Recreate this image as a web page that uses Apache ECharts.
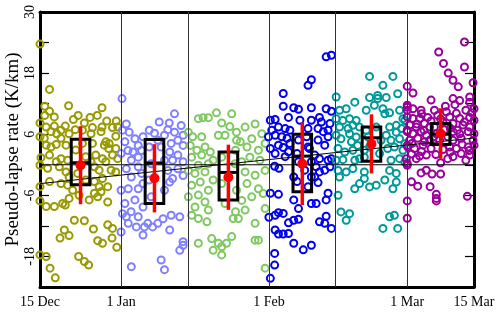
<!DOCTYPE html>
<html><head><meta charset="utf-8">
<script src="https://cdn.jsdelivr.net/npm/echarts@6/dist/echarts.min.js"></script>
<style>html,body{margin:0;padding:0;background:#fff}#c{width:500px;height:313px}</style>
</head><body><div id="c"></div>
<script>
// x = days since 15 Dec, y = pseudo-lapse rate (K/km)
const g1 = [[0,23.7],[2,14.8],[6,11.6],[1,11.5],[13,11.2],[2,10.5],[1,9.7],[3,9.4],[8,9.7],[12,9.7],[7,8.9],[10.5,9.3],[14,8.6],[16,8.6],
[0,8.2],[1.3,7.4],[3,7.6],[4.4,6.8],[5.3,7.6],[9.3,8.2],[11,7.3],[13,7.4],[15.2,7.3],[16.3,7.4],
[0,5.5],[0.9,5.2],[2.3,6.5],[3.5,6.1],[4.4,5.2],[6.1,6.1],[7.4,6.9],[8.9,6.8],[10.7,6.1],[12.8,6.5],[13.8,4.5],[14.5,4.2],[15.9,5.6],
[2.3,3.5],[1.3,3.85],[3.4,4.0],[5.45,3.85],[11,4.2],[13.5,3.85],[14.4,3.2],[15.9,3.2],
[0.2,1.4],[2,1.9],[3.4,0.6],[4.4,1.2],[5.8,0.9],[11.7,1.9],[13.1,1.2],[15.2,1.9],[16.3,1.2],
[0,-0.1],[1.6,-0.7],[4.05,-0.4],[5.45,-1.4],[11.4,-0.4],[12.4,-1.05],[14.9,-1.05],[15.9,-1.4],
[0,-4.3],[2,-3.3],[4.4,-3.7],[5.8,-4.0],[11.4,-3.3],[13.1,-2.7],[12.4,-4.3],
[6.85,-5.0],[8.2,-6.0],[11.4,-5.6],[12.8,-5.3],[14.2,-4.3],
[0,-7.1],[1.3,-8.2],[3,-8.2],[4.75,-7.6],[6.1,-6.6],[5.3,-7.9],[10.3,-6.9],[12.1,-6.3],[14.2,-7.3],
[7.2,-10.9],[9.3,-11.0],[14.2,-11.8],[15.2,-12.5],[11.2,-12.6],[5.1,-12.8],[6.1,-13.9],[4.2,-14.4],[12.1,-14.9],[13.1,-15.4],[15.1,-14.4],[16.1,-16.2],[0,-17.7],[1.3,-18.0],[8.1,-18.0],[9.3,-19.0],[10.2,-19.7],[2.1,-20.3],[3.2,-22.2],
[9.6,1.6],[10.7,0.6],[7.9,-1.7],[13.8,0.6],[9.6,-3],[7.5,2.9],[6.1,-2.4],[8.9,4.2]];
const g2 = [[17.2,13.0],[28.2,10.0],[25,8.4],[27.1,8.2],[18.1,8.0],[29.6,7.7],
[17.3,6.8],[18.7,6.4],[26.8,6.9],[28.2,6.4],[26.1,5.8],[24,6.2],[30,5.8],[21.6,5.5],
[17.8,4.5],[19.9,5.1],[28.9,4.8],[27.5,4.2],[20.6,3.8],[30,3.8],
[18.45,2.8],[19.5,2.5],[21.3,2.8],[17,2.2],[27.2,2.5],[28.9,1.9],[20.6,1.5],[27.8,0.9],[19.15,0.9],[30,0.6],
[18.1,-0.8],[20.6,-0.4],[26.8,-1.1],[28.9,-0.8],[21.3,-1.7],[30,-2.1],[19.15,-2.4],[27.8,-2.7],
[18.5,-4.7],[20.6,-4.7],[27.2,-3.4],[21.6,-3.7],[17,-5.0],
[17.8,-7.6],[19.9,-6.9],[21.6,-8.3],[19.1,-9.2],[18.1,-10.2],[17.3,-9.6],[20.6,-10.2],
[27.5,-9.9],[29.3,-10.2],[25.8,-10.6],[22.6,-11.5],[23.6,-12.2],[24.7,-11.5],[21.9,-12.2],[20.2,-12.2],[18.5,-11.5],
[17,-13.2],[21.6,-13.8],[27.2,-12.8],[30,-15.1],[29.3,-16.8],[30,-15.8],
[25.4,-18.7],[19.15,-20.0],[26.1,-20.6],
[22.9,3.5],[23.3,0.2],[26.1,0.9],[22.9,-3.0],[26.1,-5.0],[23.3,-6.3],[25.4,3.5],[24.7,4.8],[22.9,6.8]];
const g3 = [[33.2,9.05],[34.2,9.25],[35.3,9.25],[37,10.2],[40.2,10.0],[38.1,8.2],[39.8,7.5],[43,7.4],[45.1,8.0],
[31.1,6.4],[32,5.5],[33.9,5.5],[37.4,5.8],[38.8,5.8],[41.2,6.4],[42,4.5],[44.4,5.1],[46.5,6.1],[47.2,4.2],[45.8,2.85],[43.4,3.5],[41,2.85],
[31.5,3.8],[32.9,2.85],[34.6,3.5],[35.7,2.5],[33.9,1.9],[31.8,1.5],[36.3,0.9],[35.3,0.2],[33.2,-0.1],[31.1,-1.1],[32.5,-1.7],[34.6,-1.4],[36.3,-3.0],[33.6,-3.4],[31.8,-4.0],[35.3,-5.0],[31.1,-6.3],[33.2,-5.95],[34.6,-7.3],[32.5,-8.3],[31.8,-9.9],[33.2,-10.55],[35.3,-8.9],[35,-11.2],
[42.3,0.6],[44,1.5],[46.1,0.9],[43,-1.4],[45.1,-2.05],[47.2,-1.1],[43.4,-3.7],[45.8,-4.7],[44.4,-6.3],[46.8,-5.65],[42.3,-7],[43,-8.9],[41,-9.2],[41.6,-10.55],[45.1,-11.5],[47.2,-8.6],
[33.2,-15.4],[36,-14.5],[37.4,-15.4],[38.1,-16.1],[39.1,-15.4],[40.2,-14.1],[36.3,-16.8],[38.1,-17.7],[45.1,-14.8],[45.8,-14.8],[47.2,-20.3],
[38.1,1.5],[40.9,0.2],[38.1,-3.7],[41.2,-5.0],[38.8,-7.6],[40.5,-10.55],[41.2,4.8]];
const g4 = [[60,21.2],[61.1,21.5],[56.9,16.7],[56.2,15.6],[51,14.0],[51,11.5],[53.2,11.2],[54.2,10.9],[56.9,11.2],[60,11.0],[61.1,10.5],
[52.1,9.3],[48.3,8.75],[49.3,8.9],[54.5,8.75],[56.9,8.75],[58.6,9.3],[59,8.4],[60.8,8.1],
[50,7.4],[51.4,7.1],[48.6,6.8],[52.4,6.8],[56.2,7.1],[58.3,7.1],[59.4,6.5],[60.4,6.8],
[47.9,5.5],[49.3,5.8],[50.7,5.5],[51.8,5.2],[55.9,5.5],[58.3,4.85],[60.4,5.5],[59.7,3.85],
[48.3,3.2],[50,3.85],[51,3.4],[52.1,2.55],[51.4,1.6],[49.3,2.2],[52.4,4.2],[56.5,3.2],[57.6,1.9],[58.6,1.2],[60.4,0.9],[61.1,1.2],[56.9,0.6],
[49.2,-0.3],[50.1,-0.7],[53.2,-2.4],[57.9,-0.4],[58.6,-1.4],[59.7,-1.05],[60.8,-0.4],[57.6,-2.4],[58.3,-3.5],
[48.3,-5.6],[50,-5.8],[53.2,-6.9],[54.2,-8.6],[56.9,-7.6],[57.9,-7.6],[60,-6.9],[60.4,-5.6],
[48,-10.3],[49.3,-9.9],[50,-9.4],[51,-9.55],[53.2,-10.9],[54.2,-10.7],[52.1,-11.4],[58.6,-11.2],[60,-10.1],[59.7,-11.5],[61.1,-12.5],
[49.3,-12.8],[50,-13.6],[51,-13.6],[52.1,-13.5],[53.2,-15.4],[56.9,-15.8],[55.2,-16.7],
[49.2,-17.4],[49.2,-19.7],[48.3,-22.3],
[54.2,4.85],[56.2,3.5],[53.9,2.2],[55.5,-1.05],[53.9,-3.3],[56.2,-4.3],[54.2,0.6],[56.9,-2.4]];
const g5 = [[69.1,17.35],[74,17.35],[71.9,15.6],[75,13.95],[62.1,13.3],[66,12.3],[69.1,13.2],[70.8,13.6],[70.8,13.0],[72.6,13.2],
[62.8,10.7],[64.2,11.0],[70.1,11.7],[71.9,11.0],[68.4,10.7],[72.3,10.0],[73.3,10.2],[75.4,10.7],[76.1,9.05],
[62.1,9.05],[63.5,8.7],[64.9,9.05],[66.3,8.7],[65.6,7.75],[64.6,7.1],[62.8,7.4],[67,7.4],[73.3,7.4],[74.7,7.75],[75.8,7.1],[76.5,8.7],
[62.1,5.8],[63.1,5.1],[64.9,6.1],[66.3,5.45],[65.3,4.5],[72.6,5.8],[73.6,4.8],[75.4,5.1],[74.7,6.4],
[62.5,3.2],[63.9,2.5],[65.6,2.85],[66.6,3.8],[72.9,3.2],[74.3,3.5],[76.1,2.85],[76.5,4.15],
[62.1,0.9],[63.5,1.0],[66,0.9],[67,1.2],[68,1.5],[73.6,0.9],[75.4,1.2],[76.5,0.55],
[62.5,-1.1],[64.2,-1.4],[65.6,-0.75],[68,-1.4],[73.3,-1.1],[74.7,-1.7],
[62.8,-2.4],[68,-2.7],[67,-3.7],[66,-4.7],[69.1,-4.35],[70.5,-4.0],[72.3,-3.0],[74,-4.7],[74.7,-3.4],
[62.5,-6.0],[63.1,-9.25],[64.9,-9.6],[64.2,-10.9],[73.3,-10.2],[74.3,-9.9],[71.9,-12.5],[75,-12.5],
[68.4,6.8],[70.5,7.4],[69.1,3.5],[71.2,2.2],[68.8,5.45],[71.5,4.8],[68,2.85]];
const g6 = [[89,24.1],[83.6,22.15],[84.6,19.9],[89,19.2],[85.6,18.0],[86.6,16.6],[87.7,15.3],[90.8,16.1],[90.1,13.3],[86.6,13.0],[82,12.7],[90.1,12.3],[91,11.0],
[77,15.4],[78.2,14.1],[77,11.7],[77,10.7],[78.2,11.0],[79.9,10.7],[82.7,10.7],[85.2,10.4],[87.3,10.1],[89.3,10.7],
[77,9.4],[78.2,9.1],[79.6,9.1],[81.3,9.3],[83.4,9.7],[85.9,9.4],[88,9.1],[90.1,9.3],[91,8.75],
[77.5,7.8],[78.9,7.4],[80.6,8.1],[81.7,7.4],[86.6,8.1],[88.7,7.8],[90.1,7.4],
[77,6.5],[78.2,6.1],[79.9,6.5],[81,5.8],[86.6,6.5],[88,6.1],[89.8,6.5],[91,6.1],
[77.5,4.8],[79.2,5.2],[80.6,4.5],[81.7,4.8],[86.6,4.8],[88.3,5.2],[90.8,4.8],
[77.1,3.5],[78.5,3.2],[80.3,3.85],[82,3.2],[85.9,3.5],[87.3,3.2],[89.8,3.5],[91,3.85],
[77.9,2.1],[79.6,1.7],[81,1.9],[86.6,1.6],[88.3,2.2],[90.1,1.9],
[76.8,1.2],[78.9,1.2],[85.5,1.2],[89.3,0.9],
[77,-0.1],[84,0.4],
[79.9,-1.6],[81,-1.05],[82.2,-1.8],[84,-1.8],
[77.9,-3.35],[79.2,-4.2],[81.8,-4.3],[83.1,-5.8],[83.1,-6.6],[83.1,-7.1],[89.6,-6.2],
[77,-7.1],[77,-10.5],
[82.7,7.4],[84.8,6.9],[83.8,4.8],[85.5,5.5],[83.1,6.1],[84.5,8.4],
[77,11.3],[77,6.8],[77,3.8],[77,0.25],
[80,10],[82,8.6],[84,9],[86,7.2],[87.5,6.8],[89,8.4],[90.5,10.2],[79,8],[80.5,6.8],[82.5,5.5],[84.5,3],[86,2.5],[88.5,4],[90,2.8],[78,4.2],[80,2.6],[83,2],[85,11.5],[87,11.8],[88,12.6]];
const groups = [g1, g2, g3, g4, g5, g6];
const groupColors = ['#999900', '#8080ff', '#80c862', '#0000ee', '#009999', '#990099'];

// box statistics per half-month period
const boxDay = [8.5, 24, 39.5, 55, 69.5, 84];
const boxQ1  = [-3.9, -7.6, -6.9, -5.3, 0.7, 4.0];
const boxMed = [0.4, 0.35, -1.5, 1.7, 5.3, 6.0];
const boxQ3  = [5.0, 4.95, 2.5, 6.0, 7.4, 8.1];
const meanVal = [-0.1, -2.65, -2.45, 0.2, 4.1, 6.15];
const sdVal   = [7.65, 6.7, 6.4, 8.1, 5.8, 4.95];

const trendLine = [[0, -3.7], [91, 5.25]];
const zeroLine = [[0, 0], [91, 0]];
const vLineDays = [17, 31, 48, 62, 77];
const xTickDays = [0, 17, 48, 77, 91];
const xTickLabels = ['15 Dec', '1 Jan', '1 Feb', '1 Mar', '15 Mar'];
const yLabelVals = [30, 18, 6, -6, -18];

const FONT = 'Liberation Serif';
const HALF = 1.95;

const chart = echarts.init(document.getElementById('c'), null, {renderer: 'canvas'});
const series = [];
series.push({
  type: 'line', data: [], silent: true, z: 1,
  markLine: {silent: true, symbol: ['none', 'none'], label: {show: false},
    lineStyle: {color: '#333', width: 1, type: 'solid'},
    data: vLineDays.map(d => ({xAxis: d}))}
});
groups.forEach((g, i) => series.push({
  type: 'scatter', data: g, symbol: 'circle', symbolSize: 7, silent: true, z: 2,
  itemStyle: {color: 'rgba(0,0,0,0)', borderColor: groupColors[i], borderWidth: 2, opacity: 1}
}));
series.push({type: 'line', data: zeroLine, symbol: 'none', silent: true, z: 3, lineStyle: {color: '#000', width: 1}});
series.push({type: 'line', data: trendLine, symbol: 'none', silent: true, z: 3, lineStyle: {color: '#000', width: 1}});
series.push({
  type: 'custom', silent: true, z: 4,
  data: boxDay.map((d, i) => [d, boxQ1[i], boxMed[i], boxQ3[i]]),
  encode: {x: 0, y: [1, 2, 3]},
  renderItem: (params, api) => {
    const d = api.value(0), q1 = api.value(1), md = api.value(2), q3 = api.value(3);
    const tl = api.coord([d - HALF, q3]), br = api.coord([d + HALF, q1]);
    const m1 = api.coord([d - HALF, md]), m2 = api.coord([d + HALF, md]);
    return {type: 'group', children: [
      {type: 'rect', shape: {x: tl[0], y: tl[1], width: br[0] - tl[0], height: br[1] - tl[1]}, style: {fill: 'none', stroke: '#000', lineWidth: 3}},
      {type: 'line', shape: {x1: m1[0], y1: m1[1], x2: m2[0], y2: m2[1]}, style: {stroke: '#000', lineWidth: 3}}
    ]};
  }
});
series.push({
  type: 'custom', silent: true, z: 5,
  data: boxDay.map((d, i) => [d, meanVal[i] - sdVal[i], meanVal[i] + sdVal[i]]),
  encode: {x: 0, y: [1, 2]},
  renderItem: (params, api) => {
    const p1 = api.coord([api.value(0), api.value(1)]), p2 = api.coord([api.value(0), api.value(2)]);
    return {type: 'line', shape: {x1: p1[0], y1: p1[1], x2: p2[0], y2: p2[1]}, style: {stroke: '#ff0000', lineWidth: 3.5}};
  }
});
series.push({
  type: 'scatter', silent: true, z: 6, symbol: 'circle', symbolSize: 10,
  data: boxDay.map((d, i) => [d, meanVal[i]]),
  itemStyle: {color: '#ff0000', opacity: 1}
});

const yAxisBase = {
  type: 'value', min: -24, max: 30, interval: 6,
  axisLine: {show: true, onZero: false, lineStyle: {color: '#000', width: 3}},
  axisTick: {show: true, inside: true, length: 9, lineStyle: {color: '#000', width: 1.2}},
  splitLine: {show: false}
};
chart.setOption({
  animation: false,
  backgroundColor: '#fff',
  grid: {left: 40, right: 26, top: 12, bottom: 26, containLabel: false, outerBoundsMode: 'none'},
  xAxis: [{
    type: 'value', min: 0, max: 91, position: 'bottom',
    axisLine: {show: true, onZero: false, lineStyle: {color: '#000', width: 3}},
    axisTick: {show: false}, splitLine: {show: false},
    axisLabel: {customValues: xTickDays, formatter: v => xTickLabels[xTickDays.indexOf(v)] || '',
      fontFamily: FONT, fontSize: 14, color: '#000', margin: 8, hideOverlap: false, showMinLabel: true, showMaxLabel: true}
  }, {
    type: 'value', min: 0, max: 91, position: 'top',
    axisLine: {show: true, onZero: false, lineStyle: {color: '#000', width: 3}},
    axisTick: {show: false}, axisLabel: {show: false}, splitLine: {show: false}
  }],
  yAxis: [Object.assign({}, yAxisBase, {
    position: 'left',
    axisLabel: {rotate: 90, margin: 3, fontFamily: FONT, fontSize: 14, color: '#000', showMinLabel: true, showMaxLabel: true,
      formatter: v => yLabelVals.includes(v) ? String(v) : ''},
    name: 'Pseudo-lapse rate (K/km)', nameLocation: 'middle', nameGap: 17, nameRotate: 90, nameMoveOverlap: false,
    nameTextStyle: {fontFamily: FONT, fontSize: 19, color: '#000'}
  }), Object.assign({}, yAxisBase, {position: 'right', axisLabel: {show: false}})],
  series: series
});
</script></body></html>
